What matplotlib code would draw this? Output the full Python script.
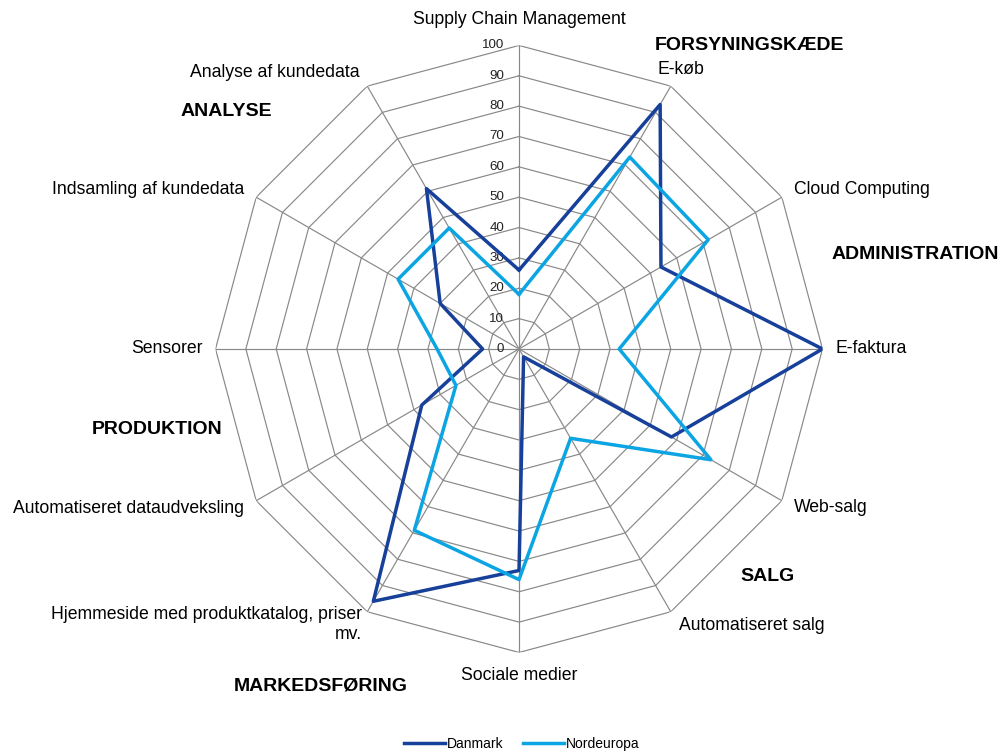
import matplotlib
import matplotlib.pyplot as plt
import numpy as np
from matplotlib.transforms import offset_copy

matplotlib.use("Agg")
plt.rcParams["font.family"] = ["Liberation Sans", "DejaVu Sans"]

# Data
categories = [
    "Supply Chain Management", "E-køb", "Cloud Computing", "E-faktura",
    "Web-salg", "Automatiseret salg", "Sociale medier",
    "Hjemmeside med produktkatalog, priser\nmv.",
    "Automatiseret dataudveksling", "Sensorer", "Indsamling af kundedata",
    "Analyse af kundedata",
]
danmark = [26, 93, 54, 100, 58, 3, 73, 96, 37, 12, 30, 61]
nordeuropa = [18, 73, 72, 33, 73, 34, 76, 69, 24, 27, 46, 46]
series_names = ["Danmark", "Nordeuropa"]
r_ticks = list(range(0, 101, 10))

groups = ["FORSYNINGSKÆDE", "ADMINISTRATION", "SALG", "MARKEDSFØRING",
          "PRODUKTION", "ANALYSE"]

# label placement (theta in degrees clockwise from north, radius in data units)
label_pos = [(0, 108.4), (30.1, 106.3), (65.1, 124.6), (90, 116),
             (117, 115.4), (139.9, 119.3), (180, 107.7), (228.6, 137.2),
             (247.8, 138.9), (270, 116), (293.2, 133.1), (318.6, 121.6)]
group_pos = [(37.3, 125.5), (76.6, 134.1), (132.5, 111.2), (210.4, 128.8),
             (257.5, 122.1), (309, 124.2)]

colors = ["#17409a", "#0ba5e3"]
grid_col = "#888888"

n = len(categories)
theta = np.arange(n) * 2 * np.pi / n
theta_c = np.append(theta, theta[0])

fig = plt.figure(figsize=(10.01, 7.51), dpi=100)
ax = fig.add_axes([0.2153, 0.1312, 0.6064, 0.8083], projection="polar")
ax.set_theta_zero_location("N")
ax.set_theta_direction(-1)
ax.set_ylim(0, 100)
ax.grid(False)
ax.spines["polar"].set_visible(False)
ax.set_xticks([])
ax.set_yticks([])
ax.patch.set_alpha(0)

# spider web grid
for lvl in r_ticks[1:]:
    ax.plot(theta_c, [lvl] * (n + 1), color=grid_col, lw=0.85, zorder=1)
for t in theta:
    ax.plot([t, t], [0, 100], color=grid_col, lw=0.85, zorder=1)

# radial labels
tr = offset_copy(ax.transData, fig=fig, x=-15, y=0, units="dots")
for lvl in r_ticks:
    ax.text(0, lvl, str(lvl), transform=tr, ha="right", va="center",
            fontsize=9.6, color="#222222")

for vals, name, c in zip([danmark, nordeuropa], series_names, colors):
    ax.plot(theta_c, vals + vals[:1], color=c, lw=2.5, label=name, zorder=3)

for lab, (deg, r) in zip(categories, label_pos):
    ax.text(np.deg2rad(deg), r, lab, ha="center", va="center", fontsize=12.7,
            multialignment="right", clip_on=False)

for lab, (deg, r) in zip(groups, group_pos):
    ax.text(np.deg2rad(deg), r, lab, ha="center", va="center", fontsize=14,
            fontweight="bold", clip_on=False)

fig.legend(loc="lower center", bbox_to_anchor=(0.521, -0.016), ncol=2,
           frameon=False, fontsize=10, handlelength=3, handletextpad=0.1,
           columnspacing=1.4)

fig.savefig("out.png", dpi=100, facecolor="white")
